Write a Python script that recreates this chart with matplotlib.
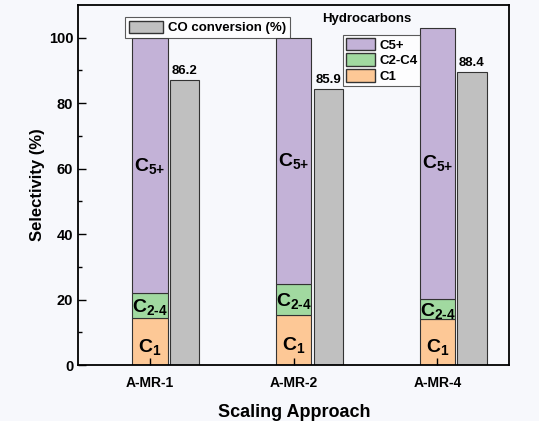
import numpy as np
import matplotlib
matplotlib.use('Agg')
import matplotlib.pyplot as plt
from matplotlib.patches import Patch

plt.rcParams['font.family'] = ['Liberation Sans', 'DejaVu Sans']
plt.rcParams['font.weight'] = 'bold'
plt.rcParams['axes.labelweight'] = 'bold'
plt.rcParams['mathtext.fontset'] = 'custom'
plt.rcParams['mathtext.rm'] = 'Liberation Sans:bold'
plt.rcParams['mathtext.default'] = 'rm'

# data
samples = ['A-MR-1', 'A-MR-2', 'A-MR-4']
c1 = [14.3, 15.3, 14.0]
c2_c4 = [7.6, 9.4, 6.3]
c5_plus = [78.1, 75.3, 82.7]
co_conv = [87.0, 84.4, 89.6]
co_labels = ['86.2', '85.9', '88.4']

bg = '#f7f8fc'
col_c1 = '#fdc896'
col_c24 = '#a1d9a0'
col_c5 = '#c3b2d7'
col_co = '#c0c0c0'

fig = plt.figure(figsize=(5.39, 4.21), dpi=100, facecolor=bg)
ax = fig.add_axes([0.145, 0.133, 0.80, 0.855], facecolor=bg)

x = np.arange(1, len(samples) + 1)
w = 0.245
bottom2 = np.array(c1)
bottom3 = bottom2 + np.array(c2_c4)

ax.bar(x, c1, w, color=col_c1, edgecolor='#333333', linewidth=0.8)
ax.bar(x, c2_c4, w, bottom=bottom2, color=col_c24, edgecolor='#333333', linewidth=0.8)
ax.bar(x, c5_plus, w, bottom=bottom3, color=col_c5, edgecolor='#333333', linewidth=0.8)
conv = ax.bar(x + 0.24, co_conv, 0.205, color=col_co, edgecolor='#333333', linewidth=0.8)

for xi, b, h in zip(x, np.zeros(3), c1):
    ax.text(xi, b + h / 2 - 1.5, r'C$_1$', ha='center', va='center', fontsize=14)
for xi, b, h in zip(x, bottom2, c2_c4):
    ax.text(xi, b + h / 2 - 0.5, r'C$_{\text{2-4}}$', ha='center', va='center', fontsize=14)
for xi, b, h in zip(x, bottom3, c5_plus):
    ax.text(xi, b + h / 2, r'C$_{\text{5+}}$', ha='center', va='center', fontsize=14)
for rect, lab in zip(conv, co_labels):
    ax.text(rect.get_x() + rect.get_width() / 2, rect.get_height() + 1.0, lab,
            ha='center', va='bottom', fontsize=9.5)

ax.set_xlim(0.5, 3.5)
ax.set_ylim(0, 110)
ax.set_xticks(x)
ax.set_xticklabels(samples, fontsize=10)
ax.set_yticks([0, 20, 40, 60, 80, 100])
ax.set_yticks(np.arange(10, 110, 20), minor=True)
ax.tick_params(axis='y', which='major', direction='in', length=6, width=1, labelsize=10.5)
ax.tick_params(axis='y', which='minor', direction='in', length=3, width=1)
ax.tick_params(axis='x', direction='in', length=5, width=1, pad=8)
for s in ax.spines.values():
    s.set_linewidth(1.3)

ax.set_xlabel('Scaling Approach', fontsize=13, labelpad=10)
ax.set_ylabel('Selectivity (%)', fontsize=12, labelpad=3)

leg1 = ax.legend([Patch(facecolor=col_co, edgecolor='#333333')], ['CO conversion (%)'],
                 loc='upper left', bbox_to_anchor=(0.093, 0.985), fontsize=9.5,
                 frameon=True, fancybox=False, edgecolor='#333333',
                 handlelength=2.6, handleheight=1.0, borderpad=0.3,
                 handletextpad=0.4)
leg1.get_frame().set_linewidth(0.8)
ax.add_artist(leg1)

handles = [Patch(facecolor=col_c5, edgecolor='#333333'),
           Patch(facecolor=col_c24, edgecolor='#333333'),
           Patch(facecolor=col_c1, edgecolor='#333333')]
leg2 = ax.legend(handles, ['C5+', 'C2-C4', 'C1'], loc='upper left',
                 bbox_to_anchor=(0.6, 0.935), fontsize=9.5, frameon=True,
                 fancybox=False, edgecolor='#333333', handlelength=2.2,
                 handleheight=1.1, labelspacing=0.15, borderpad=0.2,
                 handletextpad=0.3)
leg2.get_frame().set_linewidth(0.8)
ax.text(0.67, 0.945, 'Hydrocarbons', transform=ax.transAxes, ha='center',
        va='bottom', fontsize=9.5)

fig.savefig('out.png', dpi=100, facecolor=bg)
